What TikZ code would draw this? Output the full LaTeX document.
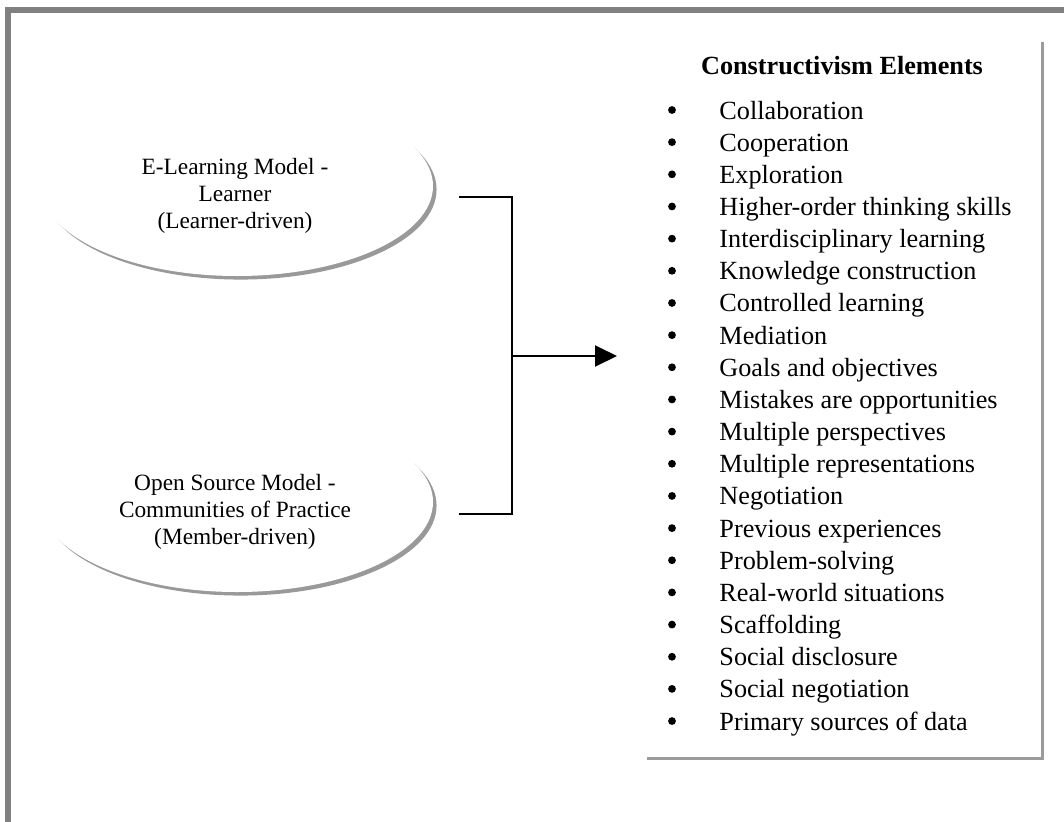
\documentclass[tikz,border=0pt]{standalone}
\usepackage{fontspec}
\setmainfont{Liberation Serif}
\usetikzlibrary{arrows.meta,shapes.geometric,shadows}
\definecolor{framegray}{HTML}{808080}
\definecolor{shadowgray}{HTML}{999999}
\definecolor{boxgray}{HTML}{9B9B9B}
\begin{document}
\begin{tikzpicture}[x=0.45pt,y=-0.45pt,
  frameline/.style={draw=framegray,line width=2.7pt},
  ell/.style={ellipse,fill=white,minimum width=176.4pt,minimum height=81pt,inner sep=0pt,
    general shadow={fill=shadowgray,shadow xshift=1.6pt,shadow yshift=-1.6pt}},
  elltext/.style={align=center,inner sep=0pt,font=\fontsize{10.5}{12.1}\selectfont},
  conn/.style={draw=black,line width=0.9pt},
  boxnode/.style={rectangle,minimum width=177.75pt,minimum height=322.2pt,inner sep=0pt},
  boxline/.style={draw=boxgray,line width=1.1pt},
  titletext/.style={anchor=base,inner sep=0pt,font=\fontsize{11.8}{14}\selectfont\bfseries},
  bul/.style={circle,fill=black,inner sep=0pt,minimum size=3.5pt},
  itemtext/.style={anchor=base west,inner sep=0pt,font=\fontsize{11.8}{14}\selectfont}
]
\useasboundingbox (0,0) rectangle (1064,821);
\clip (0,0) rectangle (1064,821);
\fill[white] (0,0) rectangle (1064,821);
\draw[frameline] (8.3,10) rectangle (1120,880);

% ellipses
\node[ell] (e1) at (237,186) {};
\node[elltext] (t1) at (235,196) {E-Learning Model -\\Learner\\(Learner-driven)};
\node[ell] (e2) at (237,502) {};
\node[elltext] (t2) at (235,512) {Open Source Model -\\Communities of Practice\\(Member-driven)};

% connectors
\coordinate (a1) at (459,197);
\coordinate (b1) at (512,197);
\coordinate (a2) at (459,514);
\coordinate (b2) at (512,514);
\coordinate (j) at (512,356);
\coordinate (tip) at (617,356);
\draw[conn] (a1) -- (b1) -- (b2) -- (a2);
\draw[conn,-{Triangle[length=9.9pt,width=9.45pt]}] (j) -- (tip);

% box
\node[boxnode] (box) at (844.5,400) {};
\draw[boxline] (box.north east) -- (box.south east) -- (box.south west);
\node[titletext] (title) at (842,74) {Constructivism Elements};
\foreach \t [count=\i from 0] in {Collaboration,Cooperation,Exploration,Higher-order thinking skills,Interdisciplinary learning,Knowledge construction,Controlled learning,Mediation,Goals and objectives,Mistakes are opportunities,Multiple perspectives,Multiple representations,Negotiation,Previous experiences,Problem-solving,Real-world situations,Scaffolding,Social disclosure,Social negotiation,Primary sources of data}{
  \node[bul] (b\i) at (672,110+32.16*\i) {};
  \node[itemtext] (it\i) at (719,119+32.16*\i) {\t};
}
\end{tikzpicture}
\end{document}
